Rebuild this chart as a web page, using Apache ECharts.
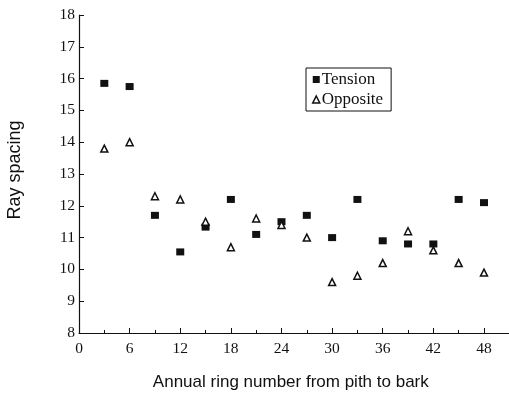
<!DOCTYPE html>
<html><head><meta charset="utf-8">
<script src="https://cdn.jsdelivr.net/npm/echarts@6/dist/echarts.min.js"></script>
<style>html,body{margin:0;padding:0;background:#fff}#c{width:509px;height:394px}</style>
</head><body><div id="c"></div>
<script>
const rings = [3, 6, 9, 12, 15, 18, 21, 24, 27, 30, 33, 36, 39, 42, 45, 48];
const tension = [15.85, 15.75, 11.7, 10.55, 11.33, 12.2, 11.1, 11.5, 11.7, 11.0, 12.2, 10.9, 10.8, 10.8, 12.2, 12.1];
const opposite = [13.8, 14.0, 12.3, 12.2, 11.5, 10.7, 11.6, 11.4, 11.0, 9.6, 9.8, 10.2, 11.2, 10.6, 10.2, 9.9];
const xTicks = [0, 6, 12, 18, 24, 30, 36, 42, 48];
const yTicks = [8, 9, 10, 11, 12, 13, 14, 15, 16, 17, 18];

const serif = 'Liberation Serif';
const chart = echarts.init(document.getElementById('c'));
chart.setOption({
  animation: false,
  backgroundColor: '#fff',
  grid: { left: 79, top: 15, width: 455.6, height: 318, containLabel: false, outerBoundsMode: 'none' },
  xAxis: {
    type: 'value', min: 0, max: 54, interval: 6,
    name: 'Annual ring number from pith to bark', nameLocation: 'middle', nameGap: 41,
    nameTextStyle: { fontFamily: 'Liberation Sans', fontSize: 17, color: '#111', padding: [0, 32, 0, 0] },
    axisLine: { lineStyle: { color: '#111', width: 1.2 } },
    axisTick: { inside: true, length: 5, lineStyle: { color: '#111' } },
    minorTick: { show: true, splitNumber: 2, length: 3, lineStyle: { color: '#111' } },
    splitLine: { show: false },
    axisLabel: { fontFamily: serif, fontSize: 15.5, color: '#111', margin: 8,
      formatter: v => xTicks.includes(v) ? String(v) : '' }
  },
  yAxis: {
    type: 'value', min: 8, max: 18, interval: 1,
    name: 'Ray spacing', nameLocation: 'middle', nameGap: 55, nameRotate: 90,
    nameTextStyle: { fontFamily: 'Liberation Sans', fontSize: 18, color: '#111', padding: [0, 0, 0, 8] },
    axisLine: { show: true, lineStyle: { color: '#111', width: 1.2 } },
    axisTick: { show: true, inside: true, length: 5, lineStyle: { color: '#111' } },
    splitLine: { show: false },
    axisLabel: { fontFamily: serif, fontSize: 15.5, color: '#111', margin: 4,
      formatter: v => yTicks.includes(v) ? String(v) : '' }
  },
  legend: {
    left: 306, top: 68, orient: 'vertical', itemGap: 3,
    itemWidth: 7, itemHeight: 7,
    padding: [3, 8, 3, 6],
    borderColor: '#111', borderWidth: 1,
    textStyle: { fontFamily: serif, fontSize: 17, color: '#111', padding: [0, 0, 0, -3] },
    data: [
      { name: 'Tension', icon: 'rect', itemStyle: { color: '#111' } },
      { name: 'Opposite', icon: 'triangle', itemStyle: { color: '#fff', borderColor: '#111', borderWidth: 1.5 } }
    ]
  },
  series: [
    { name: 'Tension', type: 'scatter', symbol: 'rect', symbolSize: [8, 7],
      itemStyle: { color: '#111', opacity: 1 },
      data: rings.map((r, i) => [r, tension[i]]) },
    { name: 'Opposite', type: 'scatter', symbol: 'triangle', symbolSize: [7, 7],
      itemStyle: { color: '#fff', borderColor: '#111', borderWidth: 1.5, opacity: 1 },
      data: rings.map((r, i) => [r, opposite[i]]) }
  ]
});
</script></body></html>
